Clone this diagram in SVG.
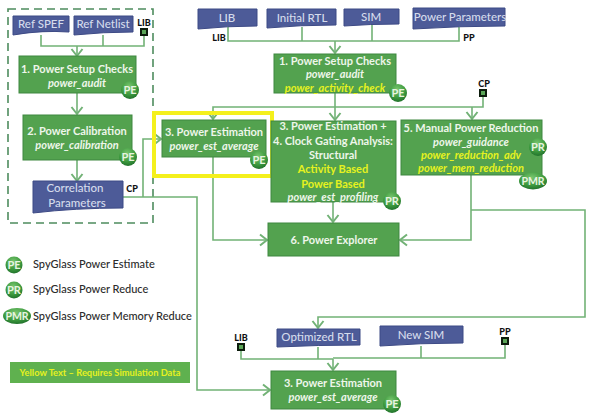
<svg xmlns="http://www.w3.org/2000/svg" width="591" height="414" viewBox="0 0 591 414">
<style>
text{font-family:Lato,"Open Sans","Liberation Sans",sans-serif;text-anchor:middle}
.box{fill:#53a24f;stroke:#3f8740;stroke-width:1}
.doc{fill:#4d5b98;stroke:#3d4a85;stroke-width:1}
.t{fill:#eef6ea;font-size:11px;font-weight:700}
.i{fill:#eef6ea;font-size:11px;font-weight:700;font-style:italic}
.y{fill:#e6f21e}
.dt{fill:#d5dcec;font-size:11.5px;font-weight:500}
.lb{fill:#111;font-size:9px;font-weight:900}
.c{fill:none;stroke:#72b276;stroke-width:1.6}
.bt{fill:#e8f4e0;font-size:11px;font-weight:700}
.bm{fill:#e8f4e0;font-size:10.5px;font-weight:700}
.lg{fill:#2b2b2b;font-size:11px;font-weight:500;text-anchor:start}
.sq{fill:#5aa557;stroke:#0c1c0c;stroke-width:2}
</style>
<defs>
<radialGradient id="g" cx="0.45" cy="0.3" r="0.75"><stop offset="0" stop-color="#79c66f"/><stop offset="0.6" stop-color="#3d9a3e"/><stop offset="1" stop-color="#1c6a28"/></radialGradient>
<marker id="a" markerUnits="userSpaceOnUse" markerWidth="14" markerHeight="14" refX="9" refY="7" orient="auto"><path d="M2 1.5L9 7L2 12.5" fill="none" stroke="#72b276" stroke-width="2"/></marker>
</defs>
<rect x="8" y="9" width="145" height="214" fill="none" stroke="#4e8c5e" stroke-width="1.6" stroke-dasharray="8 5"/>
<g id="connectors" class="conn">
<path class="c" d="M41 35V46H144V36M103 35V46"/>
<path class="c" d="M77 46V56" marker-end="url(#a)"/>
<path class="c" d="M77 93V114" marker-end="url(#a)"/>
<path class="c" d="M77 160V181" marker-end="url(#a)"/>
<path class="c" d="M123 197H197V390H270" marker-end="url(#a)"/>
<path class="c" d="M143 197V139H161" marker-end="url(#a)"/>
<path class="c" d="M228 27V41H459V27M302 27V41M372 25V41"/>
<path class="c" d="M335 41V53" marker-end="url(#a)"/>
<path class="c" d="M335 93V120" marker-end="url(#a)"/>
<path class="c" d="M483 97V107H213V119" marker-end="url(#a)"/>
<path class="c" d="M472 107V119" marker-end="url(#a)"/>
<path class="c" d="M213 157V240H267" marker-end="url(#a)"/>
<path class="c" d="M333 202V222" marker-end="url(#a)"/>
<path class="c" d="M471 175V240H400" marker-end="url(#a)"/>
<path class="c" d="M471 210H585V317H318V328" marker-end="url(#a)"/>
<path class="c" d="M241 351V359H333M318 347V359M505 345V358H333M421 346V358"/>
<path class="c" d="M333 359V370" marker-end="url(#a)"/>
</g>
<g id="ref-spef"><path class="doc" d="M13 16H69V32Q41 30 13 35Z"/><text class="dt" x="41" y="28">Ref SPEF</text></g>
<g id="ref-netlist"><path class="doc" d="M74 16H133V32Q103 32 74 35Z"/><text class="dt" x="103" y="28">Ref Netlist</text></g>
<g id="lib-a"><text class="lb" x="144" y="26">LIB</text><rect class="sq" x="141" y="29" width="6" height="6"/></g>
<g id="setup-a"><rect class="box" x="19" y="56" width="117" height="37"/><text class="t" x="77" y="73">1. Power  Setup Checks</text><text class="i" x="77" y="87">power_audit</text></g>
<g id="calibration"><rect class="box" x="23" y="115" width="109" height="45"/><text class="t" x="77" y="135">2. Power  Calibration</text><text class="i" x="77" y="149">power_calibration</text></g>
<g id="corr"><path class="doc" d="M33 181H123V208Q75 208 33 213Z"/><text class="dt" x="75" y="192">Correlation</text><text class="dt" x="77" y="207">Parameters</text></g>
<text class="lb" x="132" y="192">CP</text>
<rect x="154" y="113" width="118" height="63" fill="none" stroke="#f4f01c" stroke-width="4"/>
<g id="estimation-a"><rect class="box" x="162" y="120" width="104" height="37"/><text class="t" x="214" y="136">3. Power  Estimation</text><text class="i" x="214" y="150">power_est_average</text></g>
<g id="lib-doc"><path class="doc" d="M198 9H257V26Q228 26 198 29Z"/><text class="dt" x="227" y="22">LIB</text></g>
<text class="lb" x="219" y="41">LIB</text>
<g id="rtl-doc"><path class="doc" d="M267 9H336V25Q300 25 267 28Z"/><text class="dt" x="302" y="22">Initial RTL</text></g>
<g id="sim-doc"><path class="doc" d="M344 9H399V24Q370 24 344 26Z"/><text class="dt y" x="371" y="21">SIM</text></g>
<g id="pp-doc"><path class="doc" d="M413 8H505V26Q460 26 413 29Z"/><text class="dt" x="460" y="21">Power Parameters</text></g>
<text class="lb" x="469" y="41">PP</text>
<g id="setup-b"><rect class="box" x="274" y="54" width="122" height="39"/><text class="t" x="335" y="65">1. Power  Setup Checks</text><text class="i" x="335" y="78">power_audit</text><text class="i y" x="335" y="92">power_activity_check</text></g>
<g id="cp-b"><text class="lb" x="484" y="87">CP</text><rect class="sq" x="480" y="90" width="6" height="6"/></g>
<g id="estimation-cg"><rect class="box" x="271" y="121" width="125" height="81"/><text class="t" x="333" y="130">3. Power  Estimation +</text><text class="t" x="333" y="145">4. Clock  Gating Analysis:</text><text class="t" x="333" y="159">Structural</text><text class="t y" x="333" y="173">Activity Based</text><text class="t y" x="333" y="188">Power Based</text><text class="i" x="333" y="201">power_est_profiling</text></g>
<g id="manual"><rect class="box" x="401" y="120" width="141" height="55"/><text class="t" x="471" y="132">5. Manual Power  Reduction</text><text class="i" x="471" y="146">power_guidance</text><text class="i y" x="471" y="159">power_reduction_adv</text><text class="i y" x="471" y="172">power_mem_reduction</text></g>
<g id="explorer"><rect class="box" x="268" y="223" width="131" height="33"/><text class="t" x="334" y="244">6. Power  Explorer</text></g>
<g id="opt-rtl"><path class="doc" d="M277 329H360V345Q318 345 277 347Z"/><text class="dt" x="319" y="341">Optimized RTL</text></g>
<g id="new-sim"><path class="doc" d="M380 326H463V343Q420 343 380 346Z"/><text class="dt" x="421" y="339">New SIM</text></g>
<g id="lib-c"><text class="lb" x="241" y="341">LIB</text><rect class="sq" x="238" y="344" width="6" height="6"/></g>
<g id="pp-c"><text class="lb" x="505" y="335">PP</text><rect class="sq" x="502" y="338" width="6" height="6"/></g>
<g id="estimation-b"><rect class="box" x="271" y="371" width="125" height="38"/><text class="t" x="333" y="387">3. Power  Estimation</text><text class="i" x="333" y="401">power_est_average</text></g>
<g id="badges">
<g id="b1"><circle cx="130" cy="90" r="9" fill="url(#g)"/><text class="bt" x="130" y="94">PE</text></g>
<g id="b2"><circle cx="128" cy="157" r="9" fill="url(#g)"/><text class="bt" x="128" y="161">PE</text></g>
<g id="b3"><circle cx="259" cy="160" r="9" fill="url(#g)"/><text class="bt" x="259" y="164">PE</text></g>
<g id="b4"><circle cx="398" cy="93" r="9" fill="url(#g)"/><text class="bt" x="398" y="97">PE</text></g>
<g id="b5"><circle cx="392" cy="201" r="9" fill="url(#g)"/><text class="bt" x="392" y="205">PR</text></g>
<g id="b6"><circle cx="538" cy="147" r="9" fill="url(#g)"/><text class="bt" x="538" y="151">PR</text></g>
<g id="b7"><ellipse cx="533" cy="181" rx="14" ry="8.5" fill="url(#g)"/><text class="bm" x="533" y="185">PMR</text></g>
<g id="b8"><circle cx="392" cy="404" r="9" fill="url(#g)"/><text class="bt" x="392" y="408">PE</text></g>
</g>
<g id="legend">
<circle cx="14" cy="265" r="8.5" fill="url(#g)"/><text class="bt" x="14" y="269">PE</text>
<circle cx="14" cy="290" r="8.5" fill="url(#g)"/><text class="bt" x="14" y="294">PR</text>
<ellipse cx="17" cy="316" rx="14" ry="8" fill="url(#g)"/><text class="bm" x="17" y="320">PMR</text>
<text class="lg" x="33" y="268">SpyGlass Power  Estimate</text>
<text class="lg" x="33" y="293">SpyGlass Power  Reduce</text>
<text class="lg" x="33" y="320">SpyGlass Power  Memory Reduce</text>
</g>
<g id="note"><rect x="10" y="362" width="180" height="21" fill="#5fb14f"/><text class="y" x="100" y="376" font-size="9.3" font-weight="700">Yellow Text – Requires Simulation Data</text></g>
</svg>
